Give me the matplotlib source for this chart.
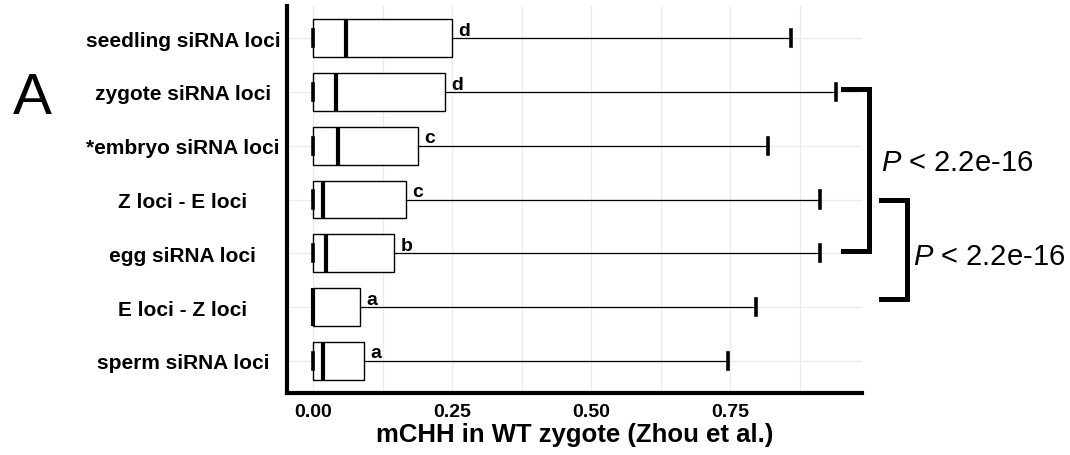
import matplotlib
matplotlib.use("Agg")
import matplotlib.pyplot as plt
from matplotlib.ticker import MultipleLocator

plt.rcParams['font.family'] = ['Liberation Sans', 'DejaVu Sans']
plt.rcParams['mathtext.fontset'] = 'custom'
plt.rcParams['mathtext.it'] = 'Liberation Sans:italic'
plt.rcParams['mathtext.rm'] = 'Liberation Sans'

# data (bottom to top)
categories = ["sperm siRNA loci", "E loci - Z loci", "egg siRNA loci", "Z loci - E loci",
              "*embryo siRNA loci", "zygote siRNA loci", "seedling siRNA loci"]
whisker_low = [0.0, 0.0, 0.0, 0.0, 0.0, 0.0, 0.0]
q1 = [0.0, 0.0, 0.0, 0.0, 0.0, 0.0, 0.0]
medians = [0.017, 0.0, 0.023, 0.017, 0.045, 0.042, 0.059]
q3 = [0.091, 0.084, 0.146, 0.167, 0.188, 0.237, 0.250]
whisker_high = [0.746, 0.796, 0.912, 0.912, 0.818, 0.940, 0.859]
letters = ["a", "a", "b", "c", "c", "d", "d"]
xticks = [0.0, 0.25, 0.5, 0.75]
xtick_labels = ["0.00", "0.25", "0.50", "0.75"]
p_label = "$P$ < 2.2e-16"

positions = list(range(1, len(categories) + 1))
stats = []
for i in range(len(categories)):
    stats.append(dict(med=medians[i], q1=q1[i], q3=q3[i],
                      whislo=whisker_low[i], whishi=whisker_high[i], fliers=[]))

fig = plt.figure(figsize=(10.7, 4.56), dpi=100)
ax = fig.add_axes([287 / 1070, 1 - 394 / 456, (862 - 287) / 1070, (394 - 7) / 456])

ax.bxp(stats, positions=positions, widths=0.7, orientation='horizontal',
       showfliers=False, capwidths=0.3, patch_artist=True,
       boxprops=dict(facecolor='white', edgecolor='black', linewidth=1.0),
       whiskerprops=dict(color='black', linewidth=0.9),
       capprops=dict(color='black', linewidth=2.6),
       medianprops=dict(color='black', linewidth=3.0, solid_capstyle='butt'))

ax.set_xlim(-0.047, 0.987)
ax.set_ylim(0.4, 7.6)
ax.set_xticks(xticks)
ax.set_xticklabels(xtick_labels, fontsize=14, fontweight='bold')
ax.xaxis.set_minor_locator(MultipleLocator(0.125))
ax.set_yticks(positions)
ax.set_yticklabels(categories, fontsize=15, fontweight='bold', ha='center')
ax.tick_params(axis='y', length=0, pad=75)
ax.tick_params(axis='x', length=0, pad=7)
ax.tick_params(axis='x', which='minor', length=0)

ax.grid(which='both', axis='x', color='#ebebeb', linewidth=1.0)
ax.grid(which='major', axis='y', color='#ebebeb', linewidth=1.0)
ax.set_axisbelow(True)

for side in ['top', 'right']:
    ax.spines[side].set_visible(False)
for side in ['left', 'bottom']:
    ax.spines[side].set_linewidth(3)
    ax.spines[side].set_color('black')

ax.set_xlabel("mCHH in WT zygote (Zhou et al.)", fontsize=18.5, fontweight='bold', labelpad=2)

# significance letters next to each box
for pos, val, let in zip(positions, q3, letters):
    ax.annotate(let, xy=(val, pos), xytext=(4.5, 2.5), textcoords='offset points',
                fontsize=14, fontweight='bold', ha='left', va='baseline')

# brackets with p values
ax.plot([0.952, 0.999, 0.999, 0.952], [6.05, 6.05, 3.05, 3.05], color='black',
        lw=3.6, clip_on=False, solid_joinstyle='miter')
ax.plot([1.021, 1.068, 1.068, 1.021], [4.0, 4.0, 2.15, 2.15], color='black',
        lw=3.6, clip_on=False, solid_joinstyle='miter')
ax.text(1.022, 4.69, p_label, fontsize=21, ha='left', va='center', clip_on=False)
ax.text(1.078, 2.94, p_label, fontsize=21, ha='left', va='center', clip_on=False)

fig.text(32 / 1070, 1 - 114 / 456, "A", fontsize=42, ha='center', va='baseline')

fig.savefig('out.png', dpi=100)
